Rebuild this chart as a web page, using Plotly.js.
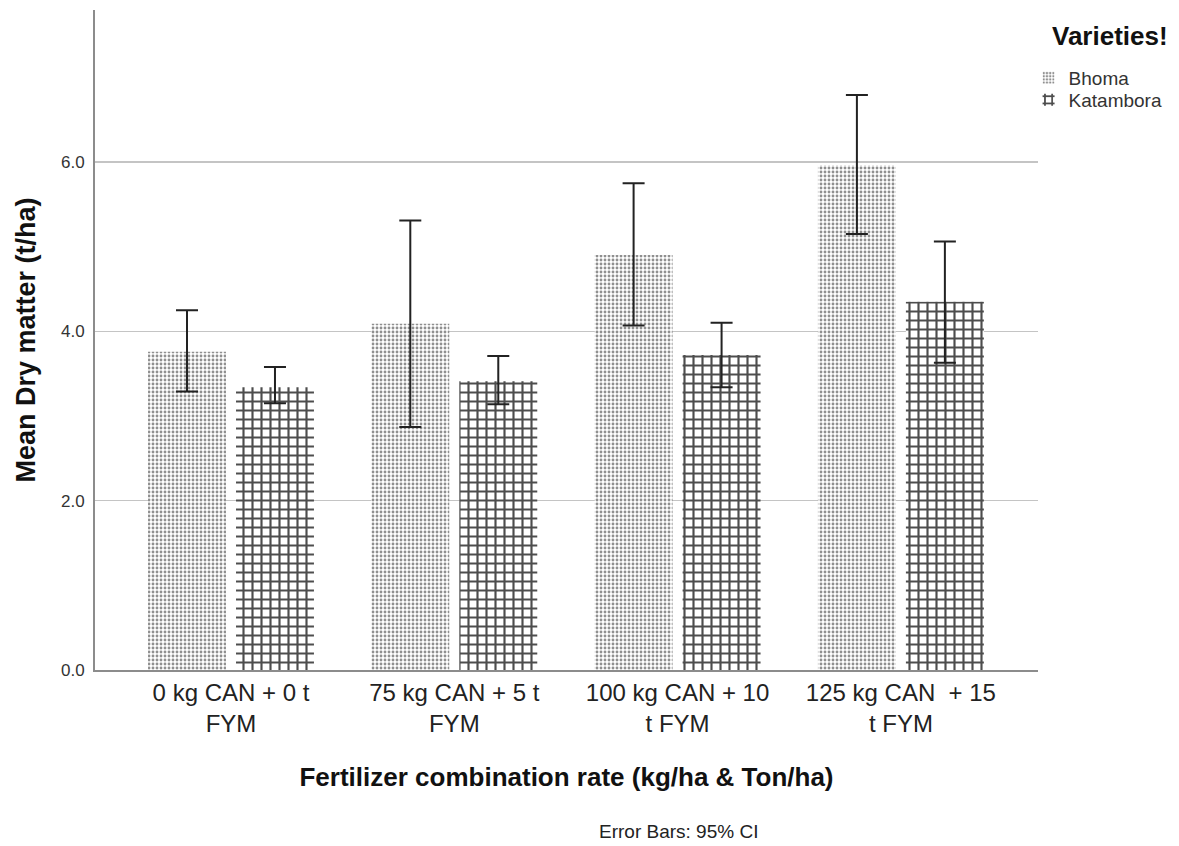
<!DOCTYPE html>
<html>
<head>
<meta charset="utf-8">
<script src="https://cdn.plot.ly/plotly-3.0.1.min.js"></script>
<style>
  html, body { margin: 0; padding: 0; background: #ffffff; }
  #chart { width: 1179px; height: 846px; }
</style>
</head>
<body>
<div id="chart"></div>
<script>
// ---- data ----
const categories = [
  "0 kg CAN + 0 t<br>FYM",
  "75 kg CAN + 5 t<br>FYM",
  "100 kg CAN + 10<br>t FYM",
  "125 kg CAN \u00a0+ 15<br>t FYM"
];
const seriesNames = ["Bhoma", "Katambora"];
const bhomaMean  = [3.76, 4.09, 4.90, 5.96];
const bhomaUpper = [4.25, 5.31, 5.75, 6.79];
const bhomaLower = [3.29, 2.87, 4.07, 5.15];
const katamboraMean  = [3.34, 3.41, 3.72, 4.35];
const katamboraUpper = [3.58, 3.71, 4.10, 5.06];
const katamboraLower = [3.15, 3.14, 3.34, 3.63];
const yTicks = [0, 2, 4, 6];

const FONT = "Liberation Sans, Arial, sans-serif";

function errs(mean, up, lo) {
  return {
    type: "data", symmetric: false,
    array: mean.map((m, i) => up[i] - m),
    arrayminus: mean.map((m, i) => m - lo[i]),
    color: "#222222", thickness: 2, width: 11
  };
}

const traces = [
  {
    type: "bar", name: seriesNames[0], x: categories, y: bhomaMean, legend: "legend",
    marker: {
      color: "#ffffff",
      line: { width: 0 },
      pattern: { shape: ".", size: 4, solidity: 0.4, fgcolor: "#8f8f8f", bgcolor: "#ffffff" }
    },
    error_y: errs(bhomaMean, bhomaUpper, bhomaLower)
  },
  {
    type: "bar", name: seriesNames[1], x: categories, y: katamboraMean, legend: "legend2",
    marker: {
      color: "#ffffff",
      line: { width: 0 },
      pattern: { shape: "+", size: 9, solidity: 0.42, fgcolor: "#4d4d4d", bgcolor: "#ffffff" }
    },
    error_y: errs(katamboraMean, katamboraUpper, katamboraLower)
  }
];

const legendBase = {
  x: 0.99, xanchor: "left", yanchor: "middle",
  font: { family: FONT, size: 19, color: "#333333" },
  itemwidth: 30, tracegroupgap: 0, bgcolor: "rgba(0,0,0,0)", borderwidth: 0
};

const layout = {
  width: 1179, height: 846,
  margin: { l: 95, r: 141, t: 10, b: 176 },
  paper_bgcolor: "#ffffff", plot_bgcolor: "#ffffff",
  font: { family: FONT, color: "#222222" },
  barmode: "group", bargap: 0.212, bargroupgap: 0.114,
  showlegend: true,
  legend: Object.assign({}, legendBase, { y: (670 - 78) / 660 }),
  legend2: Object.assign({}, legendBase, { y: (670 - 100) / 660 }),
  xaxis: {
    type: "category", range: [-0.609, 3.614],
    showline: true, linecolor: "#8c8c8c", linewidth: 2,
    showgrid: false, ticks: "", zeroline: false,
    tickfont: { family: FONT, size: 24, color: "#222222" },
    automargin: false,
    title: { text: "<b>Fertilizer combination rate (kg/ha & Ton/ha)</b>",
             font: { family: FONT, size: 26, color: "#111111" }, standoff: 32 }
  },
  yaxis: {
    range: [0, 7.795], tickvals: yTicks, tickformat: ".1f",
    showline: true, linecolor: "#8c8c8c", linewidth: 2,
    showgrid: true, gridcolor: "#c4c4c4", gridwidth: 1.5,
    zeroline: false, ticks: "", ticklabelstandoff: 5,
    tickfont: { family: FONT, size: 17, color: "#333333" },
    automargin: false,
    title: { text: "<b>Mean Dry matter (t/ha)</b>",
             font: { family: FONT, size: 27, color: "#111111" }, standoff: 18 }
  },
  annotations: [
    { xref: "paper", yref: "paper", x: (1110 - 95) / 943, y: (670 - 36) / 660,
      xanchor: "center", yanchor: "middle", showarrow: false,
      text: "<b>Varieties!</b>", font: { family: FONT, size: 26, color: "#111111" } },
    { xref: "paper", yref: "paper", x: (678 - 95) / 943, y: (670 - 831) / 660,
      xanchor: "center", yanchor: "middle", showarrow: false, text: "Error Bars: 95% CI",
      font: { family: FONT, size: 19, color: "#222222" } }
  ]
};

Plotly.newPlot("chart", traces, layout, { displayModeBar: false, staticPlot: true });
</script>
</body>
</html>
